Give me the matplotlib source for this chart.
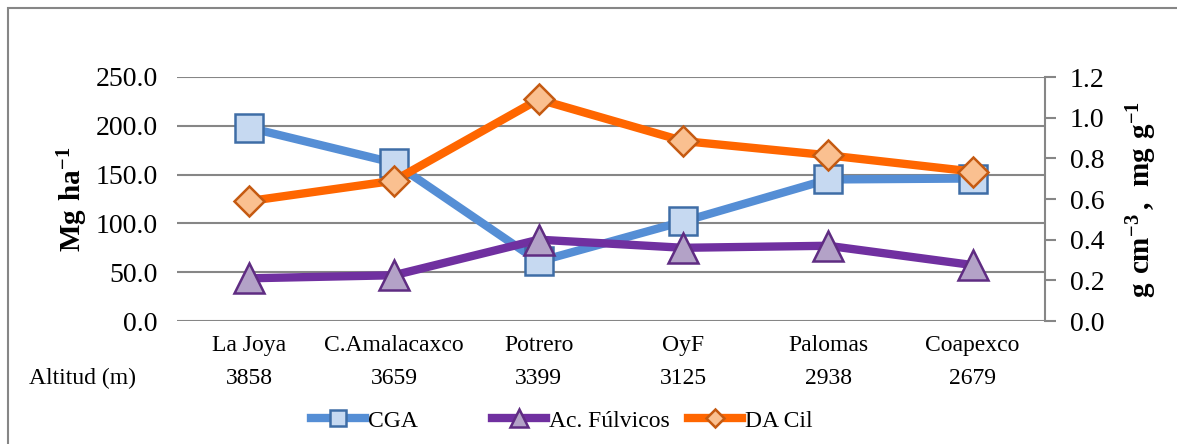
import matplotlib
matplotlib.use('Agg')
import matplotlib.pyplot as plt
from matplotlib.patches import Rectangle

plt.rcParams['font.family'] = ['Liberation Serif', 'DejaVu Serif']
plt.rcParams['mathtext.fontset'] = 'custom'
plt.rcParams['mathtext.rm'] = 'Liberation Serif'
plt.rcParams['mathtext.bf'] = 'Liberation Serif:bold'

# sitios de muestreo y altitud
sitios = ['La Joya', 'C.Amalacaxco', 'Potrero', 'OyF', 'Palomas', 'Coapexco']
altitud = [3858, 3659, 3399, 3125, 2938, 2679]

# CGA en Mg ha-1 (eje izquierdo)
cga = [198, 162, 61, 102, 145, 146]
# acidos fulvicos (mg g-1) y densidad aparente (g cm-3), eje derecho
fulvicos = [0.21, 0.225, 0.40, 0.36, 0.37, 0.275]
da_cil = [0.59, 0.69, 1.09, 0.885, 0.815, 0.735]

grid_col = '#868686'

fig = plt.figure(figsize=(11.77, 4.44), dpi=100)
ax = fig.add_axes([177/1177, 1 - 321/444, (1045 - 177)/1177, (321 - 77)/444])
ax2 = ax.twinx()

x = list(range(len(sitios)))

l1, = ax.plot(x, cga, color='#558ED5', lw=6, marker='s', ms=20,
              mfc='#C6D9F1', mec='#3E6DA6', mew=1.8, label='CGA', zorder=3)
l2, = ax2.plot(x, fulvicos, color='#7030A0', lw=6, marker='^', ms=21,
               mfc='#B3A2C7', mec='#5F2C82', mew=1.8, label='Ac. Fúlvicos', zorder=3)
l3, = ax2.plot(x, da_cil, color='#FF6600', lw=6, marker='D', ms=15,
               mfc='#FAC090', mec='#C55A11', mew=1.8, label='DA Cil', zorder=4)

ax.set_xlim(-0.5, len(sitios) - 0.5)
ax.set_ylim(0, 250)
ax.set_yticks([0, 50, 100, 150, 200, 250])
ax.set_yticklabels([f'{v:.1f}' for v in ax.get_yticks()])
ax2.set_ylim(0, 1.2)
ax2.set_yticks([0, 0.2, 0.4, 0.6, 0.8, 1.0, 1.2])
ax2.set_yticklabels([f'{v:.1f}' for v in ax2.get_yticks()])

ax.yaxis.grid(True, color=grid_col, lw=1.5)
ax.set_axisbelow(True)
for a in (ax, ax2):
    for s in ('top', 'left', 'bottom'):
        a.spines[s].set_visible(False)
ax.spines['right'].set_visible(False)
ax2.spines['right'].set_color(grid_col)
ax2.spines['right'].set_linewidth(1.5)

ax.tick_params(axis='y', length=0, labelsize=20, pad=14)
ax2.tick_params(axis='y', length=8, width=1.5, color=grid_col, labelsize=20, pad=10)

ax.set_xticks(x)
ax.set_xticklabels(sitios, fontsize=17)
ax.tick_params(axis='x', length=0, pad=10)

# fila de altitudes debajo de los nombres
for xi, alt in zip(x, altitud):
    ax.text(xi, -0.235, str(alt), transform=ax.get_xaxis_transform(),
            ha='center', va='center', fontsize=17)
fig.text(82/1177, 1 - 378/444, 'Altitud (m)', ha='center', va='center', fontsize=17)

ax.set_ylabel(r'$\mathbf{Mg\ ha^{-1}}$', fontsize=21, labelpad=4)
fig.text(1142/1177, 1 - 200/444, r'$\mathbf{g\ cm^{-3}\,,\ mg\ g^{-1}}$',
         rotation=90, ha='center', va='center', fontsize=21)

# leyenda con columnas en posiciones fijas
leg_x = [311, 492, 688]
for h, lx in zip([l1, l2, l3], leg_x):
    leg = fig.legend(handles=[h], loc='center left', bbox_to_anchor=(lx/1177, 1 - 421/444),
                     frameon=False, fontsize=17, handlelength=2.3, handletextpad=0.1,
                     borderpad=0, borderaxespad=0, markerscale=0.6)

# marco exterior del grafico
fig.patches.append(Rectangle((8/1177, -0.1), 1.2, 1 - 8/444 + 0.1, transform=fig.transFigure,
                             fill=False, edgecolor=grid_col, lw=1.5))

fig.savefig('out.png', dpi=100)
